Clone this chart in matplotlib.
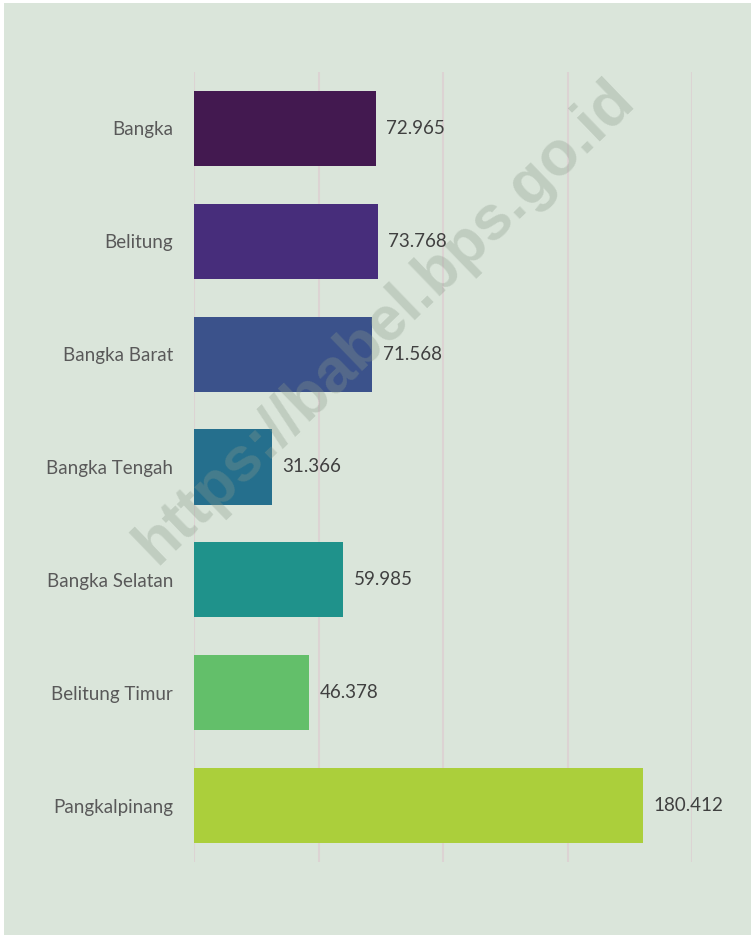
import matplotlib
matplotlib.use("Agg")
import matplotlib.pyplot as plt
from matplotlib.patches import Rectangle

categories = ["Bangka", "Belitung", "Bangka Barat", "Bangka Tengah",
              "Bangka Selatan", "Belitung Timur", "Pangkalpinang"]
values = [72.965, 73.768, 71.568, 31.366, 59.985, 46.378, 180.412]
labels = ["72.965", "73.768", "71.568", "31.366", "59.985", "46.378", "180.412"]
colors = ["#431950", "#472d7b", "#3b528b", "#256f8d", "#1f928b", "#63bf6a", "#abcf3b"]
x_ticks = [0, 50, 100, 150, 200]

W, H = 753, 938
fig = plt.figure(figsize=(W / 100, H / 100), dpi=100)
fig.patch.set_facecolor("white")
fig.patches.append(Rectangle((4 / W, 3 / H), (W - 6) / W, (H - 6) / H,
                             transform=fig.transFigure, facecolor="#dae5da",
                             edgecolor="none", zorder=-10))

ax = fig.add_axes([194 / W, 1 - 862 / H, (692 - 194) / W, (862 - 72) / H])
ax.set_zorder(1)
ax.set_facecolor("none")
y = list(range(len(categories)))
ax.barh(y, values, height=0.665, color=colors, zorder=3)
ax.set_xlim(0, 200)
ax.set_ylim(6.5, -0.5)
ax.set_xticks(x_ticks)
ax.set_xticklabels([])
ax.tick_params(axis="x", length=0)
ax.tick_params(axis="y", length=0, pad=15)
ax.set_yticks(y)
ax.set_yticklabels(categories, fontsize=13.5, color="#595959", family="Lato")
ax.grid(axis="x", color="#dcd3d3", linewidth=1.5, zorder=0)
for s in ax.spines.values():
    s.set_visible(False)

for yi, v, lab in zip(y, values, labels):
    ax.annotate(lab, (v, yi), xytext=(7.5, 0), textcoords="offset points",
                va="center", ha="left", fontsize=13.5, color="#404040", family="Lato")

fig.text(385 / W, 1 - 322 / H, "https://babel.bps.go.id", rotation=44,
         fontsize=45, fontweight="bold", color="#8a9a8a", alpha=0.32,
         ha="center", va="center", family="Liberation Sans", zorder=10)

fig.savefig("out.png", dpi=100)
